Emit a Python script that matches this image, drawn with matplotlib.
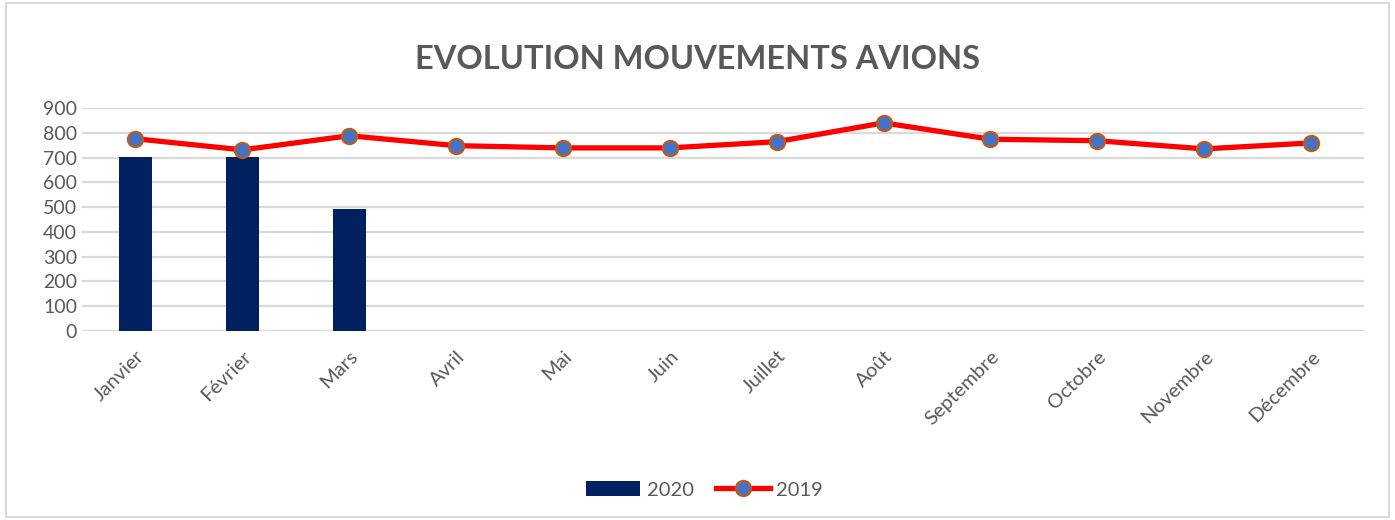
import matplotlib
matplotlib.use('Agg')
import matplotlib.pyplot as plt
import numpy as np
from matplotlib.patches import Rectangle

months = ['Janvier', 'Février', 'Mars', 'Avril', 'Mai', 'Juin', 'Juillet',
          'Août', 'Septembre', 'Octobre', 'Novembre', 'Décembre']
mvt_2020 = [702, 703, 492]
mvt_2019 = [776, 731, 788, 748, 739, 739, 764, 840, 774, 768, 735, 759]
yticks = [0, 100, 200, 300, 400, 500, 600, 700, 800, 900]

plt.rcParams['font.family'] = ['Lato', 'DejaVu Sans']
text_color = '#595959'

fig = plt.figure(figsize=(13.95, 5.2), dpi=100)
fig.patches.append(Rectangle((0.004, 0.006), 0.992, 0.988, transform=fig.transFigure,
                             fill=False, edgecolor='#D9D9D9', linewidth=1.5))

ax = fig.add_axes([0.0588, 0.3635, 0.9193, 0.4288])
x = np.arange(len(months))

bars = ax.bar(x[:len(mvt_2020)], mvt_2020, width=0.31, color='#002060', label='2020', zorder=3)
line, = ax.plot(x, mvt_2019, color='#FF0000', linewidth=3.8, marker='o', markersize=11,
                markerfacecolor='#4472C4', markeredgecolor='#C55A11', markeredgewidth=1.5,
                label='2019', zorder=4)

ax.set_xlim(-0.5, len(months) - 0.5)
ax.set_ylim(0, 900)
ax.set_yticks(yticks)
ax.set_xticks(x)
ax.set_xticklabels(months, rotation=45, ha='right', rotation_mode='anchor')
ax.tick_params(axis='both', length=0, labelsize=14, colors=text_color)
ax.tick_params(axis='x', labelsize=14.5, pad=12)
ax.yaxis.grid(True, color='#D9D9D9', linewidth=1.6, zorder=0)
for s in ax.spines.values():
    s.set_visible(False)

fig.text(0.5, 0.885, 'EVOLUTION MOUVEMENTS AVIONS', ha='center', va='center',
         fontsize=23.5, fontweight='bold', color=text_color)

leg = fig.legend([bars, line], ['2020', '2019'], loc='center', bbox_to_anchor=(0.505, 0.058),
                 ncol=2, frameon=False, fontsize=14.5, handlelength=2.7, handleheight=0.75,
                 columnspacing=1.1, handletextpad=0.3)
for t in leg.get_texts():
    t.set_color(text_color)

fig.savefig('out.png', dpi=100)
